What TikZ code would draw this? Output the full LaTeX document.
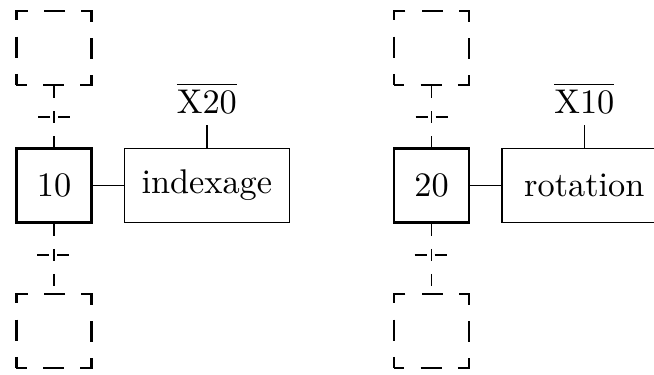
\documentclass[tikz,border=0pt]{standalone}
\usepackage{amsmath,amssymb}
\usetikzlibrary{positioning}
\begin{document}
\begin{tikzpicture}[x=0.2915pt,y=-0.2915pt]
\tikzstyle{etape}=[draw, line width=0.7pt, minimum width=21.9pt,
                   minimum height=21.6pt, inner sep=0pt]
\tikzstyle{ctx}=[etape, dash pattern=on 6.1pt off 4.75pt, dash phase=3.05pt]
\tikzstyle{action}=[draw, minimum width=48.1pt, minimum height=21.6pt]
\tikzstyle{lien}=[dash pattern=on 3.5pt off 3.8pt]
\tikzstyle{trans}=[line width=0.7pt, dash pattern=on 3.5pt off 2.35pt]
\useasboundingbox (0,0) rectangle (654,374);
\foreach \n/\x/\act/\m in {10/54/indexage/20, 20/431.5/rotation/10}{
  \node[etape] (s\n) at (\x,185.5) {\n};
  \node[ctx, above=17.8pt of s\n] (h\n) {};
  \node[ctx, below=20.1pt of s\n] (b\n) {};
  \node[action, right=9pt of s\n] (a\n) {\act};
  \node[above=6.6pt of a\n] (c\n) {$\overline{\mathrm{X\m}}$};
  \draw[lien] (h\n) -- (s\n);
  \draw[lien] (s\n) -- (b\n);
  \draw (s\n) -- (a\n);
  \draw (c\n) -- (a\n);
  \path (s\n.north) ++(0,-30) coordinate (t\n);
  \path (s\n.south) ++(0,31) coordinate (u\n);
  \draw[trans] (t\n) ++(-16,0) -- ++(32,0);
  \draw[trans] (u\n) ++(-17,0) -- ++(34,0);
}
\end{tikzpicture}
\end{document}
